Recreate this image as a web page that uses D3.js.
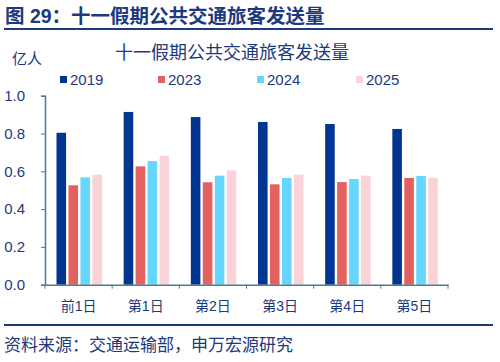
<!DOCTYPE html>
<html>
<head>
<meta charset="utf-8">
<script src="https://cdn.jsdelivr.net/npm/d3@7"></script>
<style>
  body { margin: 0; background: #fff; }
  svg text { font-family: "Liberation Sans", Arial, "Noto Sans CJK SC", sans-serif; }
</style>
</head>
<body>
<svg width="500" height="362"></svg>
<script>
// data (亿人)
const days = ['前1日', '第1日', '第2日', '第3日', '第4日', '第5日'];
const years = ['2019', '2023', '2024', '2025'];
const v2019 = [0.804, 0.914, 0.887, 0.861, 0.850, 0.824];
const v2023 = [0.526, 0.626, 0.542, 0.531, 0.543, 0.565];
const v2024 = [0.568, 0.654, 0.577, 0.565, 0.559, 0.575];
const v2025 = [0.582, 0.682, 0.605, 0.582, 0.577, 0.565];
const yTicks = [0, 0.2, 0.4, 0.6, 0.8, 1.0];

const series = [v2019, v2023, v2024, v2025];
const rows = [];
days.forEach((d, i) => years.forEach((y, j) => rows.push({day: d, year: y, value: series[j][i]})));

const navy = '#1d3a7c';
const axisColor = '#4b7d8f';
const colorScale = d3.scaleOrdinal()
    .domain(years)
    .range(['#003591', '#e3615f', '#66d6ff', '#f9d3d7']);

const svg = d3.select('svg');

// plot area
const plot = {left: 45, right: 448, top: 95.7, bottom: 284.7};

const xScale = d3.scaleBand()
    .domain(days)
    .range([plot.left, plot.right]);

const xSub = d3.scaleBand()
    .domain(years)
    .range([11.5, 57])
    .paddingInner(0.2);

const yScale = d3.scaleLinear()
    .domain([0, 1])
    .range([plot.bottom, plot.top]);

// header
svg.append('text')
    .attr('x', 5).attr('y', 23)
    .attr('font-size', 19.5).attr('font-weight', 'bold')
    .attr('fill', navy)
    .text('图 29：十一假期公共交通旅客发送量');

svg.append('line')
    .attr('x1', 4).attr('x2', 493).attr('y1', 29).attr('y2', 29)
    .attr('stroke', navy).attr('stroke-width', 2);

// chart title
svg.append('text')
    .attr('x', 232).attr('y', 59)
    .attr('text-anchor', 'middle')
    .attr('font-size', 18)
    .attr('fill', navy)
    .text('十一假期公共交通旅客发送量');

// unit
svg.append('text')
    .attr('x', 12).attr('y', 64)
    .attr('font-size', 15)
    .attr('fill', navy)
    .text('亿人');

// legend
const legendX = [60, 158, 257, 356];
const legend = svg.selectAll('.legend')
    .data(years)
    .enter()
    .append('g')
    .attr('transform', (d, i) => 'translate(' + legendX[i] + ',0)');
legend.append('rect')
    .attr('x', 0).attr('y', 76).attr('width', 7).attr('height', 7)
    .attr('fill', d => colorScale(d));
legend.append('text')
    .attr('x', 10).attr('y', 85)
    .attr('font-size', 15)
    .attr('fill', navy)
    .text(d => d);

// bars
svg.selectAll('.bar')
    .data(rows)
    .enter()
    .append('rect')
    .classed('bar', true)
    .attr('x', d => xScale(d.day) + xSub(d.year))
    .attr('width', xSub.bandwidth())
    .attr('y', d => yScale(d.value))
    .attr('height', d => yScale(0) - yScale(d.value))
    .attr('fill', d => colorScale(d.year));

// y axis
const yAxis = svg.append('g')
    .attr('transform', 'translate(' + plot.left + ',0)')
    .call(d3.axisLeft(yScale).tickValues(yTicks).tickFormat(d3.format('.1f')).tickSize(4).tickPadding(16));
yAxis.select('.domain').attr('stroke', axisColor).attr('stroke-width', 1.5);
yAxis.selectAll('.tick line').attr('stroke', axisColor);
yAxis.selectAll('.tick text').attr('font-size', 15).attr('fill', navy)
    .attr('font-family', '"Liberation Sans", Arial, sans-serif');

// x axis: ticks at category boundaries
const xAxis = svg.append('g')
    .attr('transform', 'translate(0,' + plot.bottom + ')')
    .call(d3.axisBottom(xScale).tickSize(0).tickPadding(16));
xAxis.select('.domain').attr('stroke', axisColor).attr('stroke-width', 1.5);
xAxis.selectAll('.tick text').attr('font-size', 14).attr('fill', navy);
xAxis.selectAll('.bound')
    .data(days.map(d => xScale(d)).concat([plot.right]))
    .enter()
    .append('line')
    .attr('x1', d => d).attr('x2', d => d)
    .attr('y1', 0).attr('y2', 4)
    .attr('stroke', axisColor);

// footer
svg.append('line')
    .attr('x1', 4).attr('x2', 493).attr('y1', 325).attr('y2', 325)
    .attr('stroke', navy).attr('stroke-width', 2);

svg.append('text')
    .attr('x', 4).attr('y', 351)
    .attr('font-size', 17)
    .attr('fill', navy)
    .text('资料来源：交通运输部，申万宏源研究');
</script>
</body>
</html>
